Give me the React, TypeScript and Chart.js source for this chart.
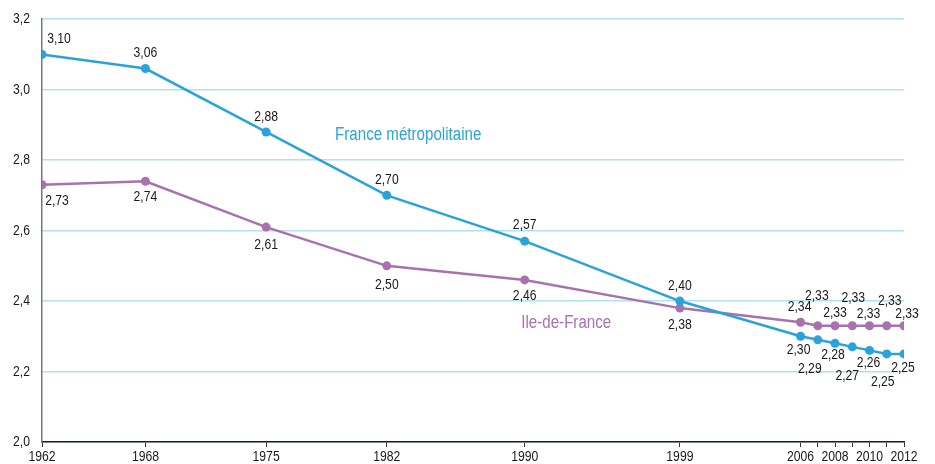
import React, { useEffect, useRef } from "react";
import { Chart, registerables } from "chart.js";

Chart.register(...registerables);

const years = [1962, 1968, 1975, 1982, 1990, 1999, 2006, 2007, 2008, 2009, 2010, 2011, 2012];
const franceValues = [3.10, 3.06, 2.88, 2.70, 2.57, 2.40, 2.30, 2.29, 2.28, 2.27, 2.26, 2.25, 2.25];
const idfValues = [2.73, 2.74, 2.61, 2.50, 2.46, 2.38, 2.34, 2.33, 2.33, 2.33, 2.33, 2.33, 2.33];
const labeledYears = [1962, 1968, 1975, 1982, 1990, 1999, 2006, 2008, 2010, 2012];
const yTicks = [2.0, 2.2, 2.4, 2.6, 2.8, 3.0, 3.2];

const BLUE = "#2aa3dc";
const PURPLE = "#a872ad";
const INK = "#1a1a1a";
const FONT = "'Liberation Sans', Arial, sans-serif";
const SQUEEZE = 0.84; // condensed look

// label placement (style only): [dx, dy] from the point centre
const franceLabelOffsets = [
  [17, -15], [0, -16], [0, -15], [0, -15], [0, -16], [0, -15],
  [-2, 14], [-8, 29], [-2, 12], [-5, 29], [-1, 13], [-4, 28], [-1, 14],
];
const idfLabelOffsets = [
  [15, 16], [0, 16], [0, 18], [0, 19], [0, 16], [0, 17],
  [-1, -15], [-1, -30], [0, -13], [1, -28], [-1, -12], [3, -25], [3, -12],
];

const fmt = (v: number, d: number) => v.toFixed(d).replace(".", ",");

function txt(ctx: CanvasRenderingContext2D, s: string, x: number, y: number, size: number, color: string, align: CanvasTextAlign) {
  ctx.save();
  ctx.translate(x, y);
  ctx.scale(SQUEEZE, 1);
  ctx.font = `${size}px ${FONT}`;
  ctx.fillStyle = color;
  ctx.textAlign = align;
  ctx.textBaseline = "middle";
  ctx.fillText(s, 0, 0);
  ctx.restore();
}

const labelPlugin = {
  id: "pointLabels",
  afterDatasetsDraw(chart: any) {
    const ctx = chart.ctx;
    const xs = chart.scales.x;
    const ys = chart.scales.y;
    const offs = [franceLabelOffsets, idfLabelOffsets];
    chart.data.datasets.forEach((ds: any, di: number) => {
      const meta = chart.getDatasetMeta(di);
      meta.data.forEach((pt: any, i: number) => {
        const [dx, dy] = offs[di][i];
        txt(ctx, fmt(ds.data[i].y, 2), pt.x + dx, pt.y + dy, 14.5, INK, "center");
      });
    });
    // axis tick labels
    yTicks.forEach((v) => {
      txt(ctx, fmt(v, 1), xs.left - 12, ys.getPixelForValue(v), 14.5, INK, "right");
    });
    labeledYears.forEach((yr) => {
      txt(ctx, String(yr), xs.getPixelForValue(yr), ys.bottom + 15, 14.5, INK, "center");
    });
    // series names
    txt(ctx, "France métropolitaine", xs.getPixelForValue(1979.0), ys.getPixelForValue(2.87), 18, BLUE, "left");
    txt(ctx, "Ile-de-France", xs.getPixelForValue(1989.8), ys.getPixelForValue(2.338), 18, PURPLE, "left");
  },
};

export default function App() {
  const ref = useRef<HTMLCanvasElement>(null);
  useEffect(() => {
    const chart = new Chart(ref.current!, {
      type: "line",
      data: {
        datasets: [
          {
            label: "France métropolitaine",
            data: years.map((x, i) => ({ x, y: franceValues[i] })),
            borderColor: BLUE,
            backgroundColor: BLUE,
            borderWidth: 2.5,
            pointRadius: 4.5,
            pointBorderWidth: 0,
            tension: 0,
          },
          {
            label: "Ile-de-France",
            data: years.map((x, i) => ({ x, y: idfValues[i] })),
            borderColor: PURPLE,
            backgroundColor: PURPLE,
            borderWidth: 2.5,
            pointRadius: 4.5,
            pointBorderWidth: 0,
            tension: 0,
          },
        ],
      },
      options: {
        animation: false,
        responsive: false,
        layout: { padding: { top: 16, right: 31, left: 0, bottom: 0 } },
        plugins: { legend: { display: false }, tooltip: { enabled: false } },
        scales: {
          x: {
            type: "linear",
            min: 1962,
            max: 2012,
            afterBuildTicks: (s: any) => {
              s.ticks = years.map((v) => ({ value: v }));
            },
            afterFit: (s: any) => {
              s.height = 22;
            },
            grid: {
              drawOnChartArea: false,
              drawTicks: true,
              tickLength: 5,
              color: "#333",
              lineWidth: 1,
            },
            border: { color: "#222", width: 1.5 },
            ticks: {
              autoSkip: false,
              maxRotation: 0,
              padding: 1,
              color: "rgba(0,0,0,0)",
              font: { family: FONT, size: 12 },
              callback: (v: any) => (labeledYears.includes(v) ? String(v) : ""),
            },
          },
          y: {
            min: 2.0,
            max: 3.2,
            afterBuildTicks: (s: any) => {
              s.ticks = yTicks.map((v) => ({ value: v }));
            },
            afterFit: (s: any) => {
              s.width = 42;
            },
            grid: {
              color: "#b5def3",
              lineWidth: 1.5,
              drawTicks: false,
            },
            border: { color: "#777", width: 1.5 },
            ticks: {
              padding: 12,
              color: "rgba(0,0,0,0)",
              font: { family: FONT, size: 12 },
              callback: (v: any) => fmt(Number(v), 1),
            },
          },
        },
      },
      plugins: [labelPlugin],
    });
    return () => chart.destroy();
  }, []);
  return (
    <div style={{ position: "fixed", left: 0, top: 0, width: 935, height: 464, background: "#fff" }}>
      <canvas ref={ref} width={935} height={464} />
    </div>
  );
}
